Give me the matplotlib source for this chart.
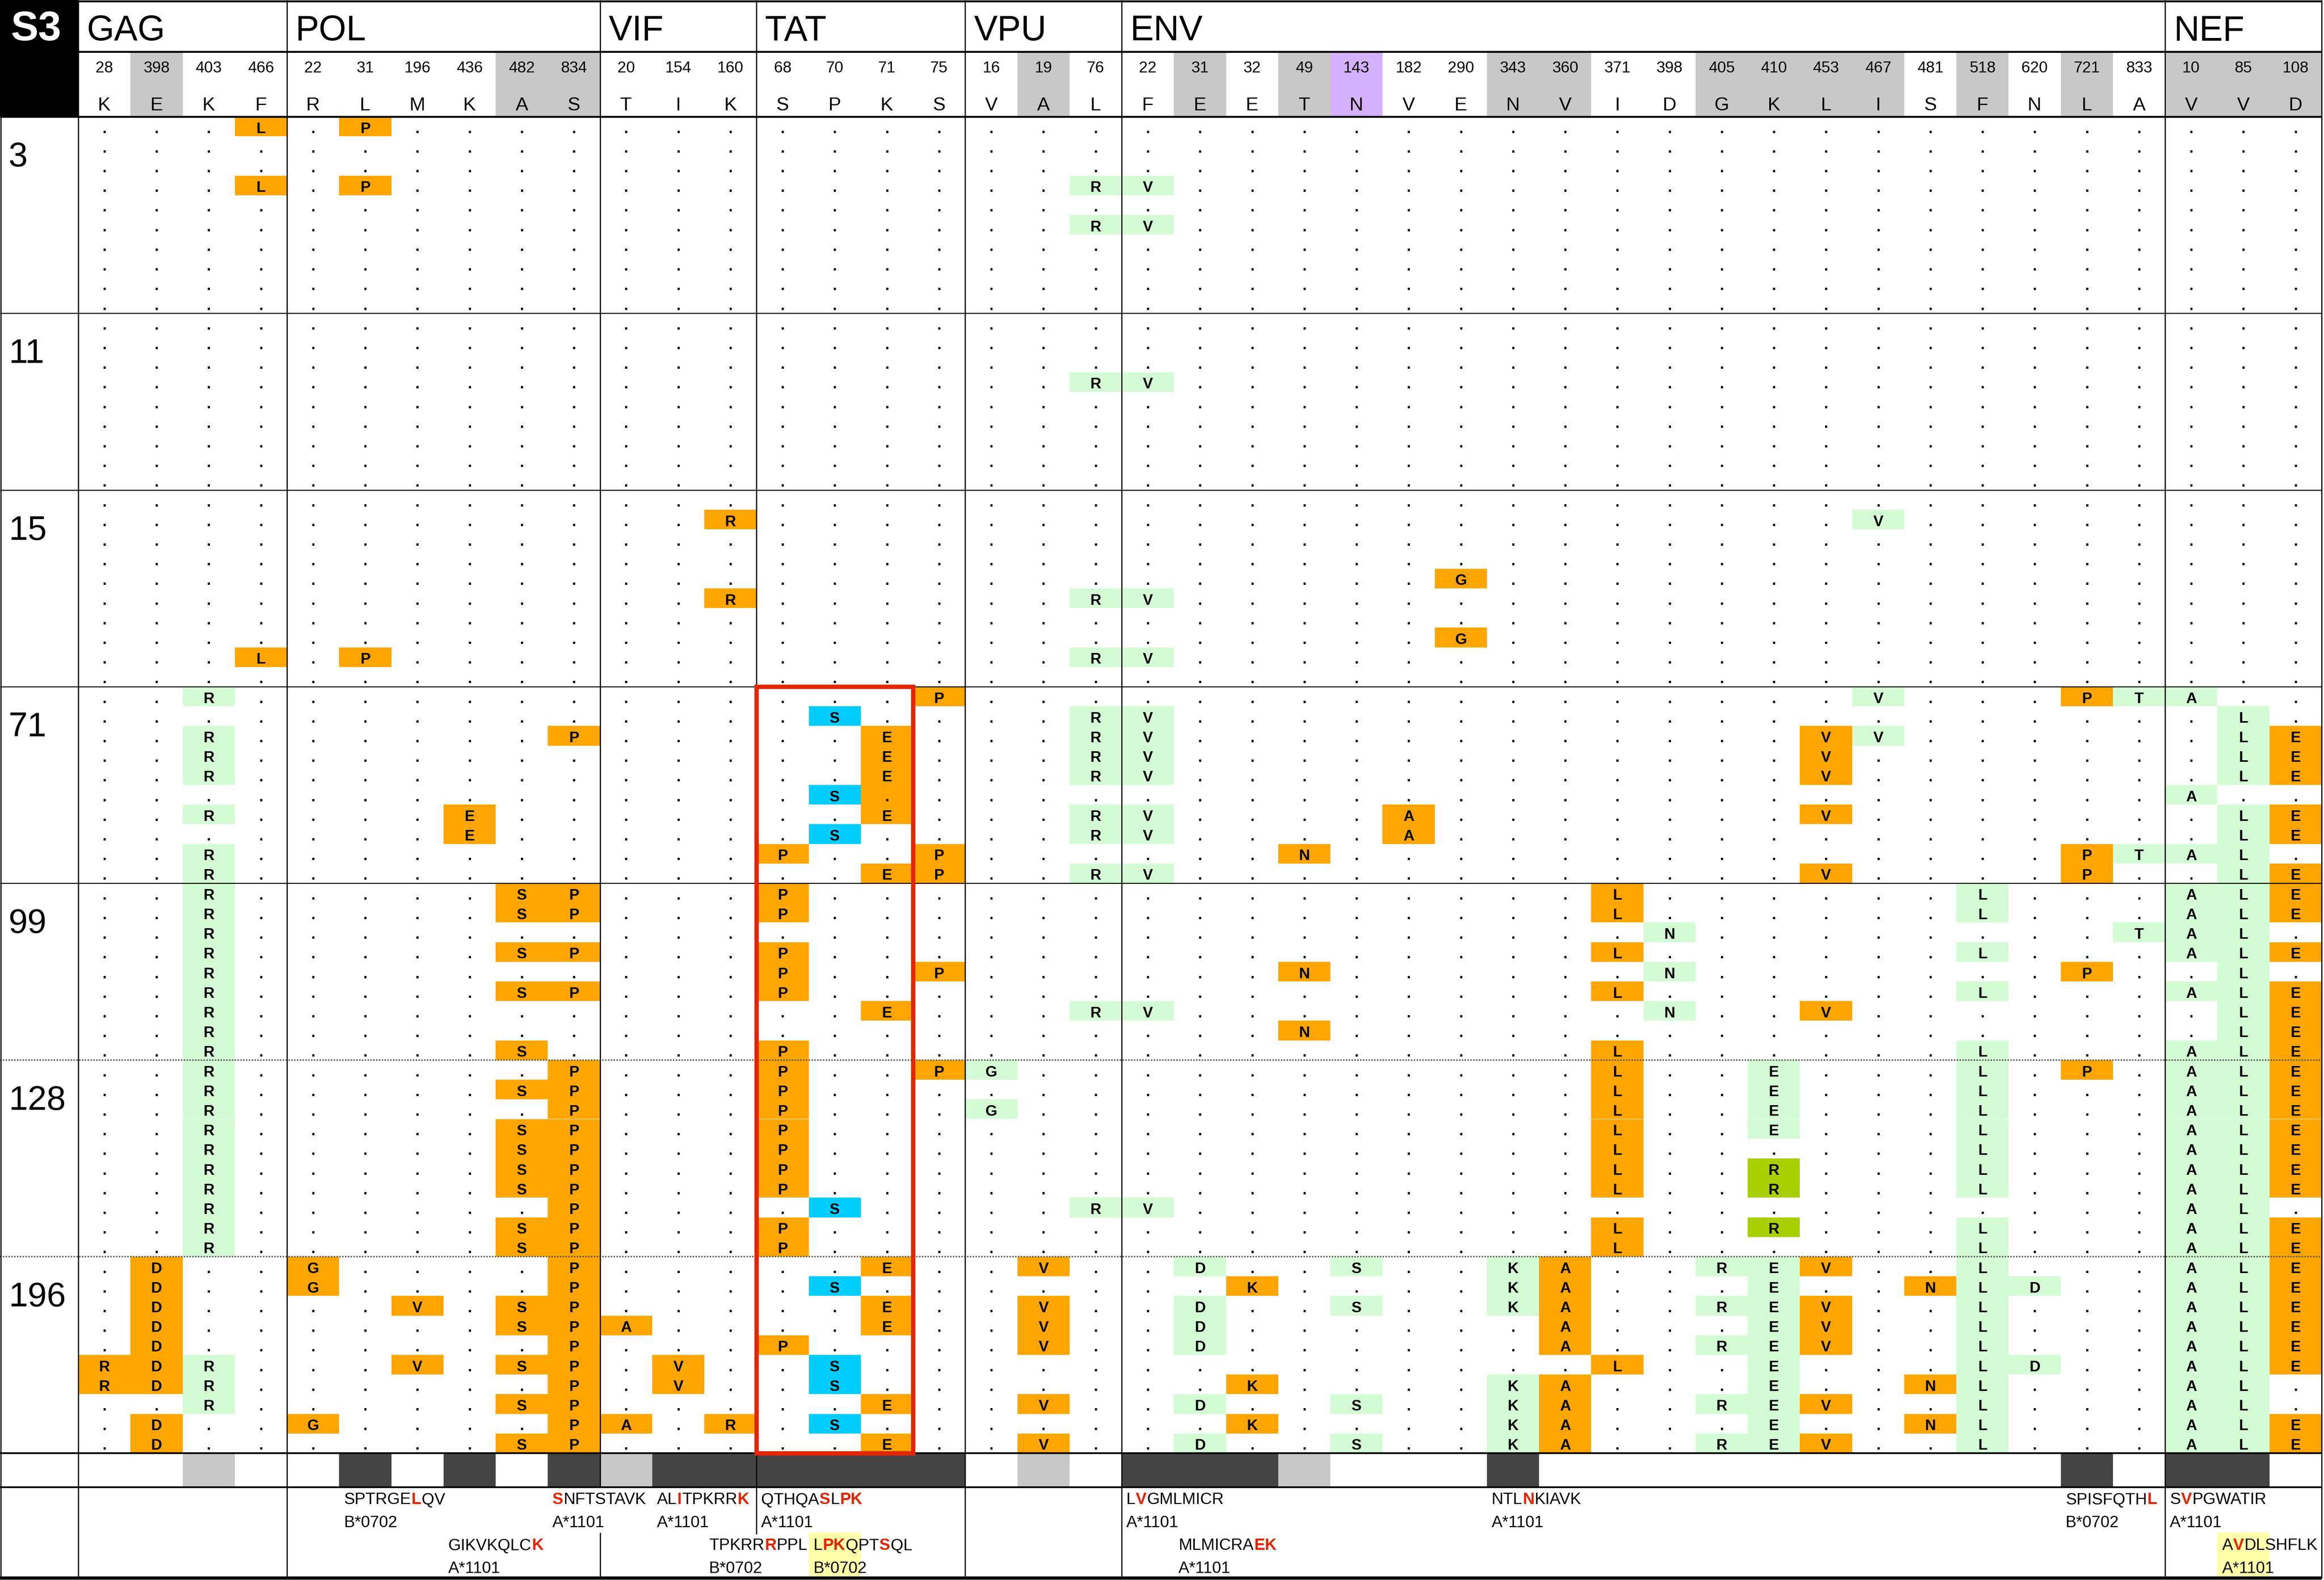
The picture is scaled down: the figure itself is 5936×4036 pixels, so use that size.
import matplotlib
matplotlib.use('Agg')
import matplotlib.pyplot as plt
from matplotlib.patches import Rectangle

plt.rcParams['font.family'] = ['Liberation Sans', 'DejaVu Sans']

# ---- data ---------------------------------------------------------------
genes = ['GAG', 'POL', 'VIF', 'TAT', 'VPU', 'ENV', 'NEF']
positions = [[28, 398, 403, 466],
             [22, 31, 196, 436, 482, 834],
             [20, 154, 160],
             [68, 70, 71, 75],
             [16, 19, 76],
             [22, 31, 32, 49, 143, 182, 290, 343, 360, 371, 398, 405, 410,
              453, 467, 481, 518, 620, 721, 833],
             [10, 85, 108]]
ref_aa = ['KEKF', 'RLMKAS', 'TIK', 'SPKS', 'VAL', 'FEETNVENVIDGKLISFNLA', 'VVD']
# header shading per column: g grey, p purple
header_shade = '-g-- ----gg --- ---- -g- -g-gp--gg--gggg-g-g- ggg'
# footer bar per column: l light grey, d dark grey
footer_shade = '--l- -d-d-d ldd dddd -l- dddl---d----------d- dd-'

timepoints = [3, 11, 15, 71, 99, 128, 196]
DOTS = '.... ...... ... .... ... .................... ...'
NONE = '---- ------ --- ---- --- -------------------- ---'

# letters and colour codes (o orange, g light green, c cyan, d olive)
seq_3 = ['...L .P.... ... .... ... .................... ...', DOTS, DOTS,
         '...L .P.... ... .... ..R V................... ...', DOTS,
         '.... ...... ... .... ..R V................... ...', DOTS, DOTS, DOTS, DOTS]
col_3 = ['---o -o---- --- ---- --- -------------------- ---', NONE, NONE,
         '---o -o---- --- ---- --g g------------------- ---', NONE,
         '---- ------ --- ---- --g g------------------- ---', NONE, NONE, NONE, NONE]

seq_11 = [DOTS, DOTS, DOTS,
          '.... ...... ... .... ..R V................... ...',
          DOTS, DOTS, DOTS, DOTS, DOTS]
col_11 = [NONE, NONE, NONE,
          '---- ------ --- ---- --g g------------------- ---',
          NONE, NONE, NONE, NONE, NONE]

seq_15 = [DOTS,
          '.... ...... ..R .... ... ..............V..... ...',
          DOTS, DOTS,
          '.... ...... ... .... ... ......G............. ...',
          '.... ...... ..R .... ..R V................... ...',
          DOTS,
          '.... ...... ... .... ... ......G............. ...',
          '...L .P.... ... .... ..R V................... ...',
          DOTS]
col_15 = [NONE,
          '---- ------ --o ---- --- --------------g----- ---',
          NONE, NONE,
          '---- ------ --- ---- --- ------o------------- ---',
          '---- ------ --o ---- --g g------------------- ---',
          NONE,
          '---- ------ --- ---- --- ------o------------- ---',
          '---o -o---- --- ---- --g g------------------- ---',
          NONE]

seq_71 = ['..R. ...... ... ...P ... ..............V...PT A..',
          '.... ...... ... .S.. ..R V................... .L.',
          '..R. .....P ... ..E. ..R V............VV..... .LE',
          '..R. ...... ... ..E. ..R V............V...... .LE',
          '..R. ...... ... ..E. ..R V............V...... .LE',
          '.... ...... ... .S.. ... .................... A..',
          '..R. ...E.. ... ..E. ..R V....A.......V...... .LE',
          '.... ...E.. ... .S.. ..R V....A.............. .LE',
          '..R. ...... ... P..P ... ...N..............PT AL.',
          '..R. ...... ... ..EP ..R V............V....P. .LE']
col_71 = ['--g- ------ --- ---o --- --------------g---og g--',
          '---- ------ --- -c-- --g g------------------- -g-',
          '--g- -----o --- --o- --g g------------og----- -go',
          '--g- ------ --- --o- --g g------------o------ -go',
          '--g- ------ --- --o- --g g------------o------ -go',
          '---- ------ --- -co- --- -------------------- g--',
          '--g- ---o-- --- --o- --g g----o-------o------ -go',
          '---- ---o-- --- -c-- --g g----o-------------- -go',
          '--g- ------ --- o--o --- ---o--------------og gg-',
          '--g- ------ --- --oo --g g------------o----o- -go']

seq_99 = ['..R. ....SP ... P... ... .........L......L... ALE',
          '..R. ....SP ... P... ... .........L......L... ALE',
          '..R. ...... ... .... ... ..........N........T AL.',
          '..R. ....SP ... P... ... .........L......L... ALE',
          '..R. ...... ... P..P ... ...N......N.......P. .L.',
          '..R. ....SP ... P... ... .........L......L... ALE',
          '..R. ...... ... ..E. ..R V.........N..V...... .LE',
          '..R. ...... ... .... ... ...N................ .LE',
          '..R. ....S. ... P... ... .........L......L... ALE']
col_99 = ['--g- ----oo --- o--- --- ---------o------g--- ggo',
          '--g- ----oo --- o--- --- ---------o------g--- ggo',
          '--g- ------ --- ---- --- ----------g--------g gg-',
          '--g- ----oo --- o--- --- ---------o------g--- ggo',
          '--g- ------ --- o--o --- ---o------g-------o- -g-',
          '--g- ----oo --- o--- --- ---------o------g--- ggo',
          '--g- ------ --- --o- --g g---------g--o------ -go',
          '--g- ------ --- ---- --- ---o---------------- -go',
          '--g- ----o- --- o--- --- ---------o------g--- ggo']

seq_128 = ['..R. .....P ... P..P G.. .........L..E...L.P. ALE',
           '..R. ....SP ... P... ... .........L..E...L... ALE',
           '..R. .....P ... P... G.. .........L..E...L... ALE',
           '..R. ....SP ... P... ... .........L..E...L... ALE',
           '..R. ....SP ... P... ... .........L......L... ALE',
           '..R. ....SP ... P... ... .........L..R...L... ALE',
           '..R. ....SP ... P... ... .........L..R...L... ALE',
           '..R. .....P ... .S.. ..R V................... AL.',
           '..R. ....SP ... P... ... .........L..R...L... ALE',
           '..R. ....SP ... P... ... .........L......L... ALE']
col_128 = ['--g- -----o --- o--o g-- ---------o--g---g-o- ggo',
           '--g- ----oo --- o--- --- ---------o--g---g--- ggo',
           '--g- -----o --- o--- g-- ---------o--g---g--- ggo',
           '--g- ----oo --- o--- --- ---------o--g---g--- ggo',
           '--g- ----oo --- o--- --- ---------o------g--- ggo',
           '--g- ----oo --- o--- --- ---------o--d---g--- ggo',
           '--g- ----oo --- o--- --- ---------o--d---g--- ggo',
           '--g- -----o --- -c-- --g g------------------- gg-',
           '--g- ----oo --- o--- --- ---------o--d---g--- ggo',
           '--g- ----oo --- o--- --- ---------o------g--- ggo']

seq_196 = ['.D.. G....P ... ..E. .V. .D..S..KA..REV..L... ALE',
           '.D.. G....P ... .S.. ... ..K....KA...E..NLD.. ALE',
           '.D.. ..V.SP ... ..E. .V. .D..S..KA..REV..L... ALE',
           '.D.. ....SP A.. ..E. .V. .D......A...EV..L... ALE',
           '.D.. .....P ... P... .V. .D......A..REV..L... ALE',
           'RDR. ..V.SP .V. .S.. ... .........L..E...LD.. ALE',
           'RDR. .....P .V. .S.. ... ..K....KA...E..NL... AL.',
           '..R. ....SP ... ..E. .V. .D..S..KA..REV..L... AL.',
           '.D.. G....P A.R .S.. ... ..K....KA...E..NL... ALE',
           '.D.. ....SP ... ..E. .V. .D..S..KA..REV..L... ALE']
col_196 = ['-o-- o----o --- --o- -o- -g--g--go--ggo--g--- ggo',
           '-o-- o----o --- -c-- --- --o----go---g--ogg-- ggo',
           '-o-- --o-oo --- --o- -o- -g--g--go--ggo--g--- ggo',
           '-o-- ----oo o-- --o- -o- -g------o---go--g--- ggo',
           '-o-- -----o --- o--- -o- -g------o--ggo--g--- ggo',
           'oog- --o-oo -o- -c-- --- ---------o--g---gg-- ggo',
           'oog- -----o -o- -c-- --- --o----go---g--og--- gg-',
           '--g- ----oo --- --o- -o- -g--g--go--ggo--g--- gg-',
           '-o-- o----o o-o -c-- --- --o----go---g--og--- ggo',
           '-o-- ----oo --- --o- -o- -g--g--go--ggo--g--- ggo']

block_seqs = [seq_3, seq_11, seq_15, seq_71, seq_99, seq_128, seq_196]
block_cols = [col_3, col_11, col_15, col_71, col_99, col_128, col_196]

# epitopes: (column, line, sequence, red residues, HLA, highlighted column)
epitopes = [(5, 0, 'SPTRGELQV', [6], 'B*0702', None),
            (9, 0, 'SNFTSTAVK', [0], 'A*1101', None),
            (11, 0, 'ALITPKRRK', [2, 8], 'A*1101', None),
            (13, 0, 'QTHQASLPK', [5, 7, 8], 'A*1101', None),
            (7, 1, 'GIKVKQLCK', [8], 'A*1101', None),
            (12, 1, 'TPKRRRPPL', [5], 'B*0702', None),
            (14, 1, 'LPKQPTSQL', [1, 2, 6], 'B*0702', 14),
            (20, 0, 'LVGMLMICR', [1], 'A*1101', None),
            (27, 0, 'NTLNKIAVK', [3], 'A*1101', None),
            (38, 0, 'SPISFQTHL', [8], 'B*0702', None),
            (40, 0, 'SVPGWATIR', [1], 'A*1101', None),
            (21, 1, 'MLMICRAEK', [7, 8], 'A*1101', None),
            (41, 1, 'AVDLSHFLK', [1], 'A*1101', 41)]

# ---- layout (pixel coordinates) ------------------------------------------
W, H = 5936, 4036
X0, XR = 200, 5930
NCOL = 43
CW = (XR - X0) / NCOL
Y_DATA, Y_END = 298, 3712
NROWS = sum(len(b) for b in block_seqs)
RH = (Y_END - Y_DATA) / NROWS
BAR_BOT = 3799
FOOT_BASE = [3842, 3901, 3959, 4018]

fills = {'o': '#ffa500', 'g': '#d4fcd4', 'c': '#00ccff', 'd': '#a6d000',
         'p': '#d5b0fc', 'l': '#c8c8c8'}
RED = '#e32600'

fig = plt.figure(figsize=(W / 100, H / 100), dpi=100)
ax = fig.add_axes([0, 0, 1, 1])
ax.set_xlim(0, W)
ax.set_ylim(H, 0)
ax.axis('off')

def colx(c):
    return X0 + c * CW

gene_start = []
n = 0
for p in positions:
    gene_start.append(n)
    n += len(p)

# header
ax.add_patch(Rectangle((0, 0), X0, Y_DATA, fc='black', ec='none', zorder=2))
ax.text(92, 103, 'S3', color='white', fontsize=76, fontweight='bold',
        ha='center', va='baseline', zorder=6)
hs = header_shade.replace(' ', '')
pos_flat = [p for g in positions for p in g]
aa_flat = ''.join(ref_aa)
for c in range(NCOL):
    if hs[c] != '-':
        ax.add_patch(Rectangle((colx(c), 134), CW, 162,
                               fc=fills[hs[c]] if hs[c] == 'p' else '#c8c8c8',
                               ec='none', zorder=1))
    ax.text(colx(c) + CW / 2, 185, str(pos_flat[c]), fontsize=29,
            ha='center', va='baseline', zorder=6)
    ax.text(colx(c) + CW / 2, 282, aa_flat[c], fontsize=35,
            ha='center', va='baseline', zorder=6)
for g, s in zip(genes, gene_start):
    ax.text(colx(s) + 22, 103, g, fontsize=65, ha='left', va='baseline', zorder=6)

# data cells
gi = 0
block_tops = []
for tp, seqs, cols in zip(timepoints, block_seqs, block_cols):
    block_tops.append(Y_DATA + gi * RH)
    ax.text(22, Y_DATA + gi * RH + 127, str(tp), fontsize=63,
            ha='left', va='baseline', zorder=6)
    for s, k in zip(seqs, cols):
        s = s.replace(' ', '')
        k = k.replace(' ', '')
        ytop = Y_DATA + gi * RH
        for c in range(NCOL):
            if k[c] != '-':
                ax.add_patch(Rectangle((colx(c), ytop), CW, RH, fc=fills[k[c]],
                                       ec='none', zorder=1))
            ax.text(colx(c) + CW / 2, ytop + 0.83 * RH, s[c], fontsize=28,
                    fontweight='bold', ha='center', va='baseline', zorder=6)
        gi += 1

# footer bar
fs = footer_shade.replace(' ', '')
for c in range(NCOL):
    if fs[c] != '-':
        ax.add_patch(Rectangle((colx(c), Y_END), CW, BAR_BOT - Y_END,
                               fc='#444444' if fs[c] == 'd' else '#c8c8c8',
                               ec='none', zorder=1))

# epitopes
def draw_epitope(x, y, seq, red):
    runs = []
    for i, ch in enumerate(seq):
        r = i in red
        if runs and runs[-1][1] == r:
            runs[-1][0] += ch
        else:
            runs.append([ch, r])
    prev = None
    for txt, r in runs:
        kw = dict(fontsize=30, color=RED if r else 'black',
                  fontweight='bold' if r else 'normal', zorder=7)
        if prev is None:
            prev = ax.text(x, y, txt, ha='left', va='baseline', **kw)
        else:
            prev = ax.annotate(txt, xy=(1, 0), xycoords=prev, xytext=(0.6, 0),
                               textcoords='offset points', ha='left',
                               va='bottom', **kw)

for c, line, seq, red, hla, hl in epitopes:
    if hl is not None:
        ax.add_patch(Rectangle((colx(hl), 3915), CW, 4028 - 3915,
                               fc='#ffffaa', ec='none', zorder=1))
    x = colx(c) + 12
    draw_epitope(x, FOOT_BASE[2 * line], seq, red)
    ax.text(x, FOOT_BASE[2 * line + 1], hla, fontsize=30, ha='left',
            va='baseline', zorder=7)

# grid lines
for y in block_tops[1:5]:
    ax.hlines(y, 0, XR, color='black', lw=1.8, zorder=4)
for y in block_tops[5:]:
    ax.hlines(y, 0, XR, color='#555555', lw=2.6, linestyles=(0, (1, 1)), zorder=4)
ax.hlines(132, X0, XR, color='black', lw=3.5, zorder=4)
ax.hlines(Y_DATA, 0, XR, color='black', lw=3.5, zorder=4)
ax.hlines(Y_END, 0, XR, color='black', lw=3.2, zorder=4)
ax.hlines(BAR_BOT, 0, XR, color='black', lw=3.2, zorder=4)
ax.hlines(3, 0, XR, color='black', lw=3.5, zorder=4)
ax.hlines(4031, 0, XR, color='black', lw=6, zorder=4)
ax.vlines([2, XR], 0, 4032, color='black', lw=2.2, zorder=4)

full_lines = [X0] + [colx(gene_start[i]) for i in (1, 4, 5, 6)]
ax.vlines(full_lines, 0, 4030, color='black', lw=2.2, zorder=4)
ax.vlines([colx(gene_start[2]), colx(gene_start[3])], 0, BAR_BOT,
          color='black', lw=2.2, zorder=4)
ax.vlines(colx(gene_start[2]), 3915, 4030, color='black', lw=2.2, zorder=4)
ax.vlines(colx(gene_start[3]), BAR_BOT, 3919, color='black', lw=2.2, zorder=4)

# TAT box
ax.add_patch(Rectangle((colx(13), block_tops[3]), 3 * CW, Y_END - block_tops[3],
                       fill=False, ec=RED, lw=8, zorder=8))

fig.savefig('out.png', dpi=100)
